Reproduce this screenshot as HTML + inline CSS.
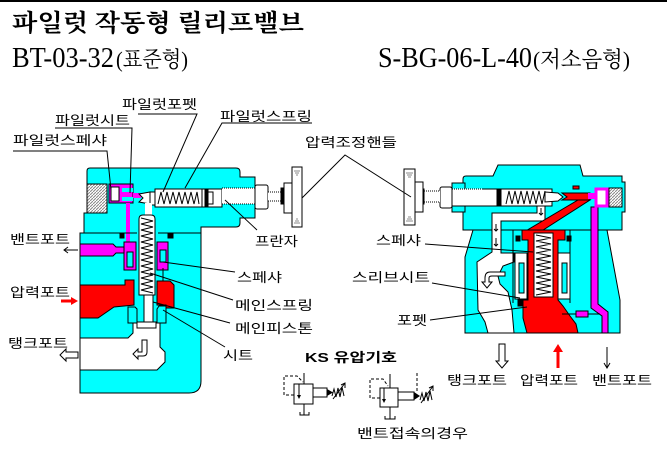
<!DOCTYPE html>
<html><head><meta charset="utf-8">
<style>
html,body{margin:0;padding:0;background:#fff;}
svg{display:block;}
text{font-family:"Liberation Sans","Noto Sans CJK KR",sans-serif;font-size:13px;fill:#000;}
text.t{font-family:"Liberation Serif","Noto Serif CJK SC","Noto Sans CJK KR",serif;}
</style></head><body>
<svg width="667" height="467" viewBox="0 0 667 467" xmlns="http://www.w3.org/2000/svg">
<defs>
<pattern id="th" width="3" height="3" patternUnits="userSpaceOnUse">
<rect width="3" height="3" fill="#fff"/>
<path d="M0,3 L3,0" stroke="#888" stroke-width="1"/>
</pattern>
</defs>
<rect width="667" height="467" fill="#fff"/>
<rect x="0" y="0" width="667" height="2" fill="#000"/>

<!-- Titles -->
<text class="t" x="12" y="31" style="font-size:24px;font-weight:bold" textLength="292" lengthAdjust="spacingAndGlyphs">파일럿 작동형 릴리프밸브</text>
<text class="t" transform="translate(12,67) scale(1,1.4)" x="0" y="0" style="font-size:20px" textLength="102" lengthAdjust="spacingAndGlyphs">BT-03-32</text>
<text class="t" x="116" y="67" style="font-size:22px" textLength="72" lengthAdjust="spacingAndGlyphs">(표준형)</text>
<text class="t" transform="translate(378,67) scale(1,1.4)" x="0" y="0" style="font-size:20px" textLength="154" lengthAdjust="spacingAndGlyphs">S-BG-06-L-40</text>
<text class="t" x="533" y="67" style="font-size:22px" textLength="97" lengthAdjust="spacingAndGlyphs">(저소음형)</text>

<!-- ============ LEFT VALVE ============ -->
<g stroke="#000" stroke-width="1">
<path d="M90,168 H236 Q240,168 240,172 V177 H255 V218 H240 V223 Q240,227 236,227 H201 V381 Q201,393 189,393 H80 V233 H84 V213 H87 V171 Q87,168 90,168 Z" fill="#0ff"/>
<rect x="87" y="184" width="20" height="29" fill="url(#th)"/>
<rect x="109" y="184" width="24" height="19" fill="#f0f"/>
<rect x="122" y="188" width="11" height="4" fill="#0ff" stroke="none"/>
<rect x="122" y="197" width="11" height="4" fill="#0ff" stroke="none"/>
<rect x="111" y="187" width="8" height="14" fill="#fff"/>
<rect x="133" y="193" width="8" height="5" fill="#f0f" stroke="none"/>
<polygon points="139,194 150,192 150,204 139,202 143,198" fill="#fff"/>
<rect x="150" y="192" width="6" height="13" fill="#fff"/>
<rect x="155" y="189" width="47" height="18" fill="#fff"/>
<polyline points="158,204 161,192 164,204 167,192 170,204 173,192 176,204 179,192 182,204 185,192 188,204 191,192 194,204 197,192 199,204" fill="none"/>
<rect x="202" y="189" width="20" height="18" fill="#fff"/>
<rect x="205" y="190" width="3" height="16" fill="#000"/>
<rect x="208" y="192" width="5" height="12" fill="#fff"/>
<rect x="222" y="188" width="33" height="16" fill="#fff" stroke="none"/>
<line x1="222" y1="188" x2="255" y2="188" stroke-dasharray="1,1"/>
<line x1="222" y1="204" x2="255" y2="204" stroke-dasharray="1,1"/>
<rect x="255" y="185" width="13" height="24" rx="2" fill="#fff"/>
<rect x="268" y="192" width="14" height="9" fill="#fff" stroke="none"/>
<line x1="268" y1="192" x2="282" y2="192" stroke-dasharray="1,1"/>
<line x1="268" y1="201" x2="282" y2="201" stroke-dasharray="1,1"/>
<rect x="281" y="188" width="3" height="16" fill="#000"/>
<rect x="284" y="183" width="8" height="30" fill="#fff"/>
<rect x="292" y="167" width="10" height="60" fill="#fff"/>
</g>
<g stroke="#888" stroke-width="1">
<line x1="294" y1="171" x2="300" y2="171"/><line x1="295" y1="173" x2="299" y2="173"/><line x1="296" y1="175" x2="298" y2="175"/>
<line x1="294" y1="223" x2="300" y2="223"/><line x1="295" y1="221" x2="299" y2="221"/><line x1="296" y1="219" x2="298" y2="219"/>
</g>
<g stroke="#000" stroke-width="1">
<rect x="126" y="203" width="4" height="42" fill="#f0f" stroke="none"/>
<polygon points="80,244 113,244 116,247 126,247 126,253 116,253 113,256 80,256" fill="#f0f"/>
<rect x="124" y="242" width="12" height="28" fill="#f0f"/>
<rect x="127" y="252" width="6" height="15" fill="#0ff"/>
<rect x="157" y="242" width="11" height="28" fill="#f0f"/>
<rect x="160" y="250" width="6" height="12" fill="#0ff"/>
<line x1="163" y1="268" x2="163" y2="281"/>
<line x1="80" y1="233" x2="137" y2="233"/>
<line x1="158" y1="233" x2="201" y2="233"/>
<rect x="120" y="233" width="4" height="5" fill="#000"/>
<rect x="168" y="233" width="5" height="5" fill="#000"/>
<rect x="145" y="203" width="7" height="12" fill="#fff" stroke="none"/>
<path d="M139,295 V219 Q139,215 143,215 H151 Q155,215 155,219 V295 Z" fill="#fff"/>
<polyline points="141,218 153,221 141,224 153,227 141,230 153,233 141,236 153,239 141,242 153,245 141,248 153,251 141,254 153,257 141,260 153,263 141,266 153,269 141,272 153,275 141,278 153,281 141,284 153,287 141,290 153,293" fill="none"/>
<polygon points="80,285 125,285 125,280 134,280 134,305 114,307 98,318 80,318" fill="#f00"/>
<polygon points="157,281 170,281 174,285 174,308 166,308 166,305 157,305" fill="#f00"/>
<polygon points="80,338 128,338 133,333 133,323 160,323 160,347 165,352 165,362 157,370 80,370" fill="#fff"/>
<polygon points="128,307 135,307 137,309 137,323 128,323" fill="#0ff"/>
<polygon points="157,309 159,306 166,306 166,323 157,323" fill="#0ff"/>
<rect x="144" y="295" width="9" height="28" fill="#fff"/>
<rect x="137" y="322" width="19" height="6" fill="#fff"/>
<path d="M142,340 H147 V352 Q147,356 143,356 H138 V359 L133,354 L138,349 V352 H142 Z" fill="#fff"/>
</g>

<g stroke="#000" stroke-width="1" fill="none">
<line x1="64" y1="250" x2="78" y2="250"/>
<polyline points="68,247 64,250 68,253"/>
<polygon points="60,355 66,349 66,352 78,352 78,358 66,358 66,361" fill="#fff"/>
</g>
<line x1="61" y1="301" x2="72" y2="301" stroke="#f00" stroke-width="3"/>
<polygon points="71,297 78,301 71,305" fill="#f00"/>

<!-- ============ RIGHT VALVE ============ -->
<g stroke="#000" stroke-width="1">
<path d="M466,176 H493 L498,165 H580 L583,176 H622 V182 H625 V212 H622 V230 H607 L620,300 V333 H465 V257 L473,230 H463 V179 Q463,176 466,176 Z" fill="#0ff"/>
<line x1="463" y1="230" x2="607" y2="230"/>
<rect x="452" y="183" width="13" height="29" fill="#0ff"/>
<rect x="452" y="189" width="100" height="17" fill="#fff"/>
<line x1="452" y1="189" x2="482" y2="189" stroke="#fff"/>
<line x1="452" y1="189" x2="482" y2="189" stroke-dasharray="1,1"/>
<line x1="452" y1="206" x2="482" y2="206" stroke-dasharray="1,1"/>
<rect x="497" y="189" width="4" height="17" fill="#000"/>
<polyline points="506,204 509,191 512,204 515,191 518,204 521,191 524,204 527,191 530,204 533,191 536,204 539,191 542,204 545,191" fill="none"/>
<polygon points="545,192 558,193 563,197 558,201 545,202" fill="#fff"/>
<polygon points="537,206 545,206 545,221 501,221 501,253 514,253 514,262 503,266 498,276 500,284 508,292 512,310 514,333 488,333 485,322 478,310 477,262 492,252 492,213 537,213" fill="#fff"/>
<path d="M505,272 H490 Q485,272 485,278 V282 H482 L487,288 L492,282 H489 V278 Q489,276 492,276 H505 Z" fill="#fff"/>
<polygon points="562,193 590,193 590,200 562,200 567,197" fill="#f00"/>
<rect x="573" y="186" width="6" height="3" fill="#f00"/>
<rect x="588" y="193" width="8" height="6" fill="#f0f" stroke="none"/>
<polygon points="578,200 590,200 540,232 524,232" fill="#f00"/>
<line x1="513" y1="230" x2="513" y2="303"/>
<line x1="570" y1="230" x2="570" y2="303"/>
<polygon points="522,230 565,230 565,240 558,240 558,300 563,306 570,316 576,324 578,333 527,333 523,318 523,300 528,300 528,240 522,240" fill="#f00"/>
<rect x="534" y="233" width="19" height="64" fill="#fff"/>
<polyline points="536,235 551,238 536,241 551,244 536,247 551,250 536,253 551,256 536,259 551,262 536,265 551,268 536,271 551,274 536,277 551,280 536,283 551,286 536,289 551,292 536,295" fill="none"/>
<rect x="515" y="253" width="12" height="46" fill="#fff"/>
<rect x="519" y="263" width="5" height="30" fill="#0ff"/>
<rect x="558" y="253" width="12" height="46" fill="#fff"/>
<rect x="562" y="263" width="5" height="30" fill="#0ff"/>
<rect x="516" y="236" width="4" height="5" fill="#000"/>
<rect x="567" y="236" width="4" height="5" fill="#000"/>
<rect x="518" y="300" width="4" height="6" fill="#000"/>
<polygon points="591,207 598,207 598,304 608,312 608,333 602,333 602,316 591,308" fill="#f0f"/>
<rect x="596" y="189" width="11" height="17" fill="#fff" stroke="#f0f" stroke-width="3"/>
<rect x="609" y="188" width="13" height="19" fill="url(#th)"/>
<line x1="562" y1="314" x2="600" y2="314"/>
<rect x="576" y="311" width="12" height="6" fill="#f0f"/>
<rect x="440" y="187" width="12" height="21" rx="2" fill="#fff"/>
<rect x="424" y="191" width="16" height="11" fill="#fff" stroke="none"/>
<line x1="424" y1="191" x2="440" y2="191" stroke-dasharray="1,1"/>
<line x1="424" y1="202" x2="440" y2="202" stroke-dasharray="1,1"/>
<rect x="422" y="189" width="2" height="15" fill="#000"/>
<rect x="415" y="182" width="8" height="30" fill="#fff"/>
<rect x="404" y="169" width="11" height="56" fill="#fff"/>
</g>
<g stroke="#888" stroke-width="1">
<line x1="406" y1="173" x2="413" y2="173"/><line x1="407" y1="175" x2="412" y2="175"/><line x1="408" y1="177" x2="411" y2="177"/>
<line x1="406" y1="221" x2="413" y2="221"/><line x1="407" y1="219" x2="412" y2="219"/><line x1="408" y1="217" x2="411" y2="217"/>
</g>
<g stroke="#000" stroke-width="1" fill="none">
<line x1="541" y1="208" x2="541" y2="215"/><polyline points="539,213 541,215 543,213"/>
<line x1="496" y1="224" x2="496" y2="231"/><polyline points="494,229 496,231 498,229"/>
<line x1="496" y1="238" x2="496" y2="246"/><polyline points="494,244 496,246 498,244"/>
</g>

<polygon points="499,344 505,344 505,361 508,361 502,368 496,361 499,361" fill="#fff" stroke="#000"/>
<line x1="558" y1="368" x2="558" y2="350" stroke="#f00" stroke-width="3"/>
<polygon points="553,352 558,344 563,352" fill="#f00"/>
<line x1="607" y1="347" x2="607" y2="368" stroke="#000"/>
<polyline points="604,363 607,368 610,363" fill="none" stroke="#000"/>

<g stroke="#000" stroke-width="1" fill="none">
<polyline points="138,114 197,114 163,192"/>
<polyline points="55,128 132,128 130,193"/>
<polyline points="13,151 107,151 111,190"/>
<polyline points="312,123 222,123 185,188"/>
<polyline points="302,198 345,155 411,197"/>
<line x1="257" y1="230" x2="225" y2="200"/>
<line x1="425" y1="244" x2="533" y2="252"/>
<line x1="432" y1="283" x2="520" y2="298"/>
<line x1="430" y1="320" x2="527" y2="307"/>
<line x1="163" y1="262" x2="235" y2="272"/>
<line x1="150" y1="273" x2="233" y2="300"/>
<line x1="153" y1="302" x2="230" y2="323"/>
<line x1="163" y1="310" x2="225" y2="347"/>
</g>

<text x="122" y="109" textLength="75" lengthAdjust="spacingAndGlyphs">파일럿포펫</text>
<text x="55" y="125" textLength="75" lengthAdjust="spacingAndGlyphs">파일럿시트</text>
<text x="13" y="145" textLength="94" lengthAdjust="spacingAndGlyphs">파일럿스페샤</text>
<text x="220" y="121" textLength="92" lengthAdjust="spacingAndGlyphs">파일럿스프링</text>
<text x="305" y="147" textLength="92" lengthAdjust="spacingAndGlyphs">압력조정핸들</text>
<text x="255" y="246" textLength="43" lengthAdjust="spacingAndGlyphs">프란자</text>
<text x="376" y="245" textLength="45" lengthAdjust="spacingAndGlyphs">스페샤</text>
<text x="10" y="244" textLength="60" lengthAdjust="spacingAndGlyphs">밴트포트</text>
<text x="10" y="297" textLength="60" lengthAdjust="spacingAndGlyphs">압력포트</text>
<text x="8" y="348" textLength="60" lengthAdjust="spacingAndGlyphs">탱크포트</text>
<text x="237" y="282" textLength="45" lengthAdjust="spacingAndGlyphs">스페샤</text>
<text x="235" y="310" textLength="78" lengthAdjust="spacingAndGlyphs">메인스프링</text>
<text x="235" y="333" textLength="78" lengthAdjust="spacingAndGlyphs">메인피스톤</text>
<text x="223" y="360" textLength="30" lengthAdjust="spacingAndGlyphs">시트</text>
<text x="352" y="282" textLength="78" lengthAdjust="spacingAndGlyphs">스리브시트</text>
<text x="397" y="325" textLength="30" lengthAdjust="spacingAndGlyphs">포펫</text>
<text x="305" y="362" style="font-weight:bold" textLength="92" lengthAdjust="spacingAndGlyphs">KS 유압기호</text>
<text x="357" y="438" textLength="111" lengthAdjust="spacingAndGlyphs">밴트접속의경우</text>
<text x="447" y="385" textLength="60" lengthAdjust="spacingAndGlyphs">탱크포트</text>
<text x="520" y="385" textLength="58" lengthAdjust="spacingAndGlyphs">압력포트</text>
<text x="592" y="385" textLength="60" lengthAdjust="spacingAndGlyphs">밴트포트</text>

<g stroke="#000" stroke-width="1" fill="none">
<rect x="294" y="384" width="19" height="20"/>
<line x1="304" y1="373" x2="304" y2="384"/>
<path d="M294,395 H284 V376 H297 L303,382" stroke-dasharray="3,2"/>
<line x1="299" y1="384" x2="299" y2="396"/>
<line x1="304" y1="404" x2="304" y2="415"/>
<path d="M300,412 V415 H309 V412"/>
<rect x="313" y="388" width="14" height="9"/>
<polyline points="332,396 334,389 336,397 338,388 340,397 342,387 344,396"/>
<line x1="333" y1="399" x2="345" y2="383"/>
<polyline points="341,385 345,383 345,388"/>

<rect x="380" y="388" width="18" height="19"/>
<line x1="390" y1="374" x2="390" y2="388"/>
<path d="M380,398 H370 V379 H383 L388,386" stroke-dasharray="3,2"/>
<line x1="384" y1="388" x2="384" y2="400"/>
<line x1="390" y1="407" x2="390" y2="419"/>
<path d="M385,416 V419 H395 V416"/>
<rect x="398" y="392" width="16" height="8"/>
<line x1="417" y1="373" x2="417" y2="392" stroke-dasharray="3,2"/>
<polyline points="420,400 422,393 424,401 426,392 428,401 430,391 432,400"/>
<line x1="421" y1="403" x2="433" y2="386"/>
<polyline points="429,388 433,386 433,391"/>
</g>
<polygon points="297,395 301,395 299,399" fill="#000"/>
<polygon points="327,389 333,392.5 327,396" fill="#000"/>
<polygon points="382,399 386,399 384,403" fill="#000"/>
<polygon points="414,392 420,396 414,400" fill="#000"/>
</svg>
</body></html>
